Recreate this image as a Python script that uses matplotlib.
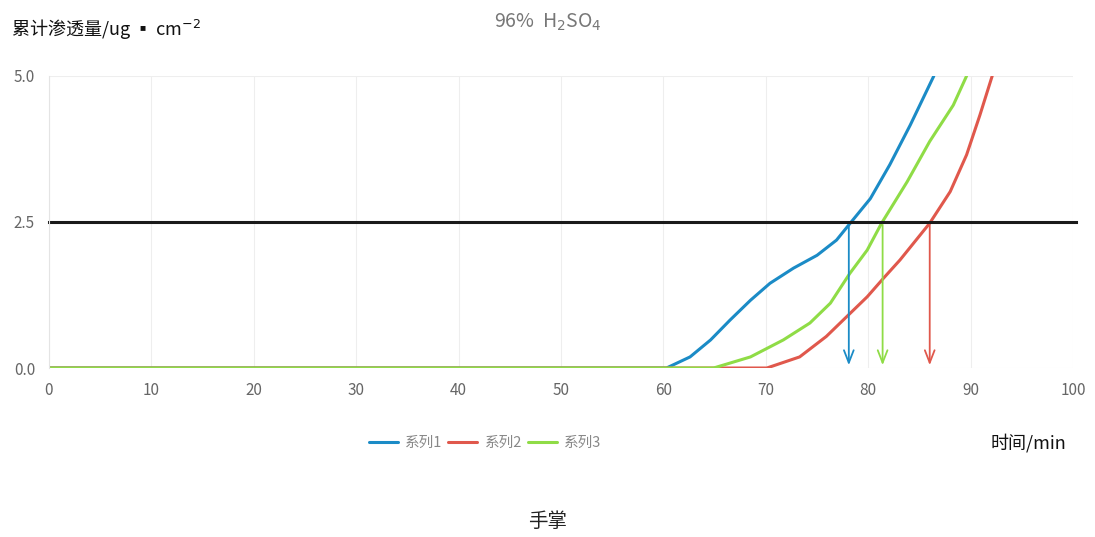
import matplotlib
matplotlib.use('Agg')
from matplotlib import pyplot as plt

plt.rcParams['font.family'] = ['Noto Sans CJK SC', 'DejaVu Sans']

# values
blue_x = [0, 60.3, 62.6, 64.6, 66.5, 68.5, 70.4, 72.7, 75.0, 76.9, 78.1, 80.2, 82.1, 84.1, 86.4]
blue_y = [0, 0, 0.19, 0.48, 0.82, 1.16, 1.45, 1.71, 1.93, 2.19, 2.45, 2.9, 3.48, 4.16, 5.0]
red_x = [0, 70.1, 73.3, 75.9, 77.9, 79.9, 81.5, 83.1, 86.0, 88.0, 89.6, 90.9, 92.1]
red_y = [0, 0, 0.19, 0.54, 0.88, 1.22, 1.54, 1.85, 2.48, 3.02, 3.65, 4.33, 5.0]
green_x = [0, 64.9, 68.5, 71.7, 74.3, 76.3, 78.2, 79.9, 81.3, 83.8, 86.0, 88.3, 89.6]
green_y = [0, 0, 0.19, 0.48, 0.77, 1.11, 1.62, 2.02, 2.48, 3.19, 3.88, 4.5, 5.0]
series_names = ['系列1', '系列2', '系列3']
threshold = 2.5
cross_x = [78.1, 81.4, 86.0]

colors = ['#1b8bc6', '#e0584c', '#8fdc46']

fig = plt.figure(figsize=(10.95, 5.37), dpi=100)
ax = fig.add_axes([0.0447, 0.3147, 0.9353, 0.5438])

for (xs, ys), name, c in zip([(blue_x, blue_y), (red_x, red_y), (green_x, green_y)], series_names, colors):
    ax.plot(xs, ys, color=c, linewidth=2.2, label=name, solid_capstyle='round', solid_joinstyle='round')

ax.plot([0, 100.3], [threshold, threshold], color='#1a1a1a', linewidth=2.2, clip_on=False)

for xc, c in zip(cross_x, [colors[0], colors[2], colors[1]]):
    ax.annotate('', xy=(xc, 0), xytext=(xc, threshold),
                arrowprops=dict(arrowstyle='->,head_length=0.9,head_width=0.35', color=c, lw=1.3))

ax.set_xlim(0, 100)
ax.set_ylim(0, 5)
ax.set_xticks(range(0, 101, 10))
ax.set_yticks([0, 2.5, 5.0])
ax.set_yticklabels(['0.0', '2.5', '5.0'])
ax.grid(True, color='#eeeeee', linewidth=0.8)
for s in ['top', 'right', 'bottom']:
    ax.spines[s].set_visible(False)
ax.spines['left'].set_color('#e4e4e4')
ax.tick_params(length=0, labelsize=11, colors='#666666', pad=10)

leg = fig.legend(loc='center', bbox_to_anchor=(0.443, 0.175), ncol=3, frameon=False,
                 fontsize=10.5, handlelength=2.0, columnspacing=0.4, handletextpad=0.5)
for t in leg.get_texts():
    t.set_color('#888888')

fig.text(0.01, 0.945, '累计渗透量/ug ▪ cm$^{-2}$', fontsize=13, color='#111111', va='center',
         fontweight='medium')
fig.text(0.5, 0.958, '96%  H$_2$SO$_4$', fontsize=14, color='#777777', ha='center', va='center')
fig.text(0.905, 0.175, '时间/min', fontsize=13, color='#111111', va='center', fontweight='medium')
fig.text(0.5, 0.028, '手掌', fontsize=14, color='#222222', ha='center', va='center')

fig.savefig('out.png', dpi=100)
